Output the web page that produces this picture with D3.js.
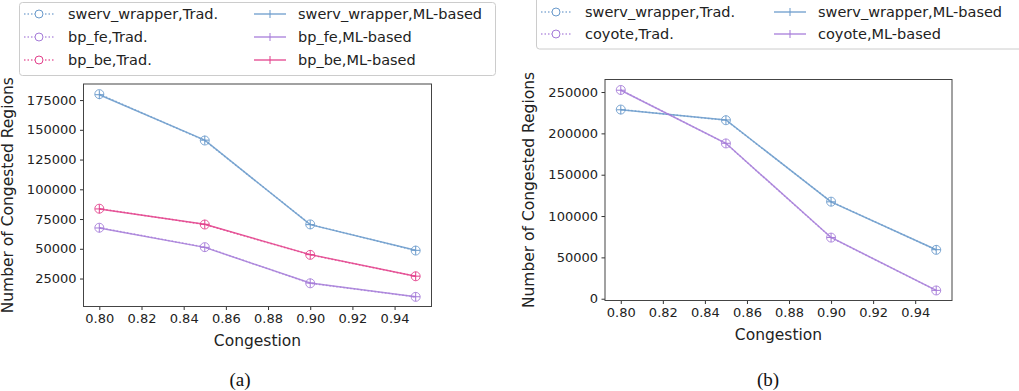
<!DOCTYPE html>
<html>
<head>
<meta charset="utf-8">
<script src="https://cdn.jsdelivr.net/npm/d3@7"></script>
<style>
  body { margin: 0; background: #fff; }
  svg { display: block; font-family: "DejaVu Sans", sans-serif; }
</style>
</head>
<body>
<svg id="chart" width="1019" height="391"></svg>
<script>
const congestion = [0.80, 0.85, 0.90, 0.95];
const xTicks = [0.80, 0.82, 0.84, 0.86, 0.88, 0.90, 0.92, 0.94];

// panel (a)
const swervA_trad = [180000, 141000, 70500, 48500];
const swervA_ml   = [179500, 141300, 70300, 48700];
const bpfe_trad   = [67700, 51400, 21000, 9600];
const bpfe_ml     = [67500, 51200, 21200, 9700];
const bpbe_trad   = [83700, 70400, 44900, 26900];
const bpbe_ml     = [83500, 70600, 45100, 27000];
const yTicksA = [25000, 50000, 75000, 100000, 125000, 150000, 175000];

// panel (b)
const swervB_trad = [228800, 215900, 117400, 59100];
const swervB_ml   = [228500, 216200, 117200, 59300];
const coyote_trad = [252500, 187800, 73900, 10000];
const coyote_ml   = [252200, 188000, 74100, 10100];
const yTicksB = [0, 50000, 100000, 150000, 200000, 250000];

const blue = '#6a9acb', purple = '#a57bd8', pink = '#e2408b';

const svg = d3.select('#chart');

function panel(opts) {
  const x = d3.scaleLinear().domain([0.7925, 0.9575]).range([opts.left, opts.right]);
  const y = d3.scaleLinear().domain(opts.yDomain).range([opts.bottom, opts.top]);
  const g = svg.append('g');

  const xAxis = g.append('g')
    .attr('transform', `translate(0,${opts.bottom})`)
    .call(d3.axisBottom(x).tickValues(xTicks).tickFormat(d3.format('.2f')).tickSize(3.5).tickPadding(3.5));
  const yAxis = g.append('g')
    .attr('transform', `translate(${opts.left},0)`)
    .call(d3.axisLeft(y).tickValues(opts.yTicks).tickFormat(d3.format('d')).tickSize(3.5).tickPadding(3.5));
  [xAxis, yAxis].forEach(a => {
    a.select('.domain').remove();
    a.selectAll('text').attr('font-size', 13).attr('fill', '#222').attr('font-family', '"DejaVu Sans", sans-serif');
    a.selectAll('line').attr('stroke', '#333');
  });

  g.append('rect')
    .attr('x', opts.left).attr('y', opts.top)
    .attr('width', opts.right - opts.left).attr('height', opts.bottom - opts.top)
    .attr('fill', 'none').attr('stroke', '#444').attr('stroke-width', 1);

  const line = d3.line().x((d, i) => x(congestion[i])).y(d => y(d));

  opts.series.forEach(s => {
    // ML-based: solid with plus markers
    g.append('path').datum(s.ml).attr('d', line)
      .attr('fill', 'none').attr('stroke', s.color).attr('stroke-width', 1.5).attr('stroke-opacity', 0.85);
    g.selectAll(null).data(s.ml).enter().append('path')
      .attr('d', (d, i) => `M${x(congestion[i]) - 4.5},${y(d)}h9M${x(congestion[i])},${y(d) - 4.5}v9`)
      .attr('stroke', s.color).attr('stroke-width', 1).attr('fill', 'none');
    // Trad.: dotted with open circle markers
    g.append('path').datum(s.trad).attr('d', line)
      .attr('fill', 'none').attr('stroke', s.color).attr('stroke-width', 1.5)
      .attr('stroke-dasharray', '1.5,2').attr('stroke-opacity', 0.7);
    g.selectAll(null).data(s.trad).enter().append('circle')
      .attr('cx', (d, i) => x(congestion[i])).attr('cy', d => y(d)).attr('r', 4.5)
      .attr('fill', 'none').attr('stroke', s.color).attr('stroke-width', 1).attr('stroke-opacity', 0.85);
  });

  g.append('text').attr('x', (opts.left + opts.right) / 2).attr('y', opts.bottom + 39)
    .attr('text-anchor', 'middle').attr('font-size', 15.5).attr('fill', '#222').text('Congestion');
  g.append('text')
    .attr('transform', `translate(${opts.ylabelX},${(opts.top + opts.bottom) / 2}) rotate(-90)`)
    .attr('text-anchor', 'middle').attr('font-size', 15.5).attr('fill', '#222').text('Number of Congested Regions');
  g.append('text').attr('x', opts.capX).attr('y', 386)
    .attr('text-anchor', 'middle').attr('font-size', 19).attr('fill', '#111')
    .attr('font-family', '"Liberation Serif", serif').text(opts.caption);

  // legend
  const lg = svg.append('g');
  lg.append('rect').attr('x', opts.legend.x).attr('y', opts.legend.y)
    .attr('width', opts.legend.w).attr('height', opts.legend.h).attr('rx', 3)
    .attr('fill', '#fff').attr('stroke', '#ccc');
  opts.series.forEach((s, r) => {
    const cy = opts.legend.rowY[r];
    const [h1, h2] = opts.legend.hx;
    // Trad.
    lg.append('line').attr('x1', h1).attr('x2', h1 + 30).attr('y1', cy).attr('y2', cy)
      .attr('stroke', s.color).attr('stroke-width', 1.5).attr('stroke-dasharray', '1.5,2').attr('stroke-opacity', 0.8);
    lg.append('circle').attr('cx', h1 + 15).attr('cy', cy).attr('r', 4)
      .attr('fill', '#fff').attr('stroke', s.color).attr('stroke-width', 1);
    lg.append('text').attr('x', h1 + 44).attr('y', cy).attr('dy', '0.35em')
      .attr('font-size', 14.5).attr('fill', '#222').text(`${s.name},Trad.`);
    // ML-based
    lg.append('line').attr('x1', h2).attr('x2', h2 + 32).attr('y1', cy).attr('y2', cy)
      .attr('stroke', s.color).attr('stroke-width', 1.5).attr('stroke-opacity', 0.85);
    lg.append('path').attr('d', `M${h2 + 16},${cy - 4}v8`).attr('stroke', s.color).attr('stroke-width', 1);
    lg.append('text').attr('x', h2 + 44).attr('y', cy).attr('dy', '0.35em')
      .attr('font-size', 14.5).attr('fill', '#222').text(`${s.name},ML-based`);
  });
}

panel({
  left: 83.5, right: 431.5, top: 84, bottom: 306.5,
  yDomain: [1500, 188500], yTicks: yTicksA,
  ylabelX: 13, capX: 240, caption: '(a)',
  series: [
    { name: 'swerv_wrapper', color: blue, trad: swervA_trad, ml: swervA_ml },
    { name: 'bp_fe', color: purple, trad: bpfe_trad, ml: bpfe_ml },
    { name: 'bp_be', color: pink, trad: bpbe_trad, ml: bpbe_ml }
  ],
  legend: { x: 19.5, y: 2.5, w: 476, h: 73, rowY: [14, 37, 60], hx: [24, 254] }
});

panel({
  left: 605, right: 952, top: 79.5, bottom: 300.5,
  yDomain: [-2150, 265150], yTicks: yTicksB,
  ylabelX: 534, capX: 768, caption: '(b)',
  series: [
    { name: 'swerv_wrapper', color: blue, trad: swervB_trad, ml: swervB_ml },
    { name: 'coyote', color: purple, trad: coyote_trad, ml: coyote_ml }
  ],
  legend: { x: 536.5, y: -4, w: 490, h: 53, rowY: [12, 34], hx: [541, 774] }
});
</script>
</body>
</html>
